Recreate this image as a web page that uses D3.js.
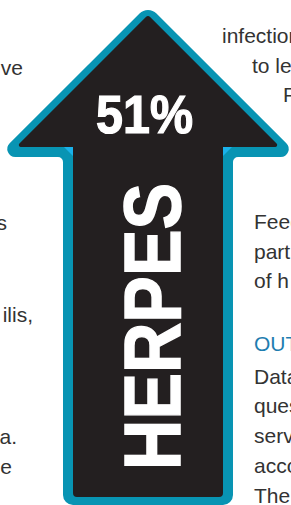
<!DOCTYPE html>
<html><head><meta charset="utf-8">
<script src="https://cdn.jsdelivr.net/npm/d3@7"></script>
<style>html,body{margin:0;padding:0;background:#fff;overflow:hidden}svg{display:block}</style>
</head><body>
<script>
// ---- data ----
const categories = ["HERPES"];
const values = [51];
const valueLabels = ["51%"];
// body-text fragments visible around the graphic
const leftLines = ["ve", "s", "ilis,", "a.", "e"];
const leftBaselines = [75, 230, 322, 444, 474];
const leftEnds = [23, 7, 33, 17, 12];
const rightLines = ["infection", "to le", "F", "Feed", "part", "of h", "OUT", "Data", "ques", "serv", "acco", "The"];
const rightBaselines = [43, 73, 102, 229, 259, 288, 351, 384, 413, 443, 473, 503];
const rightStarts = [222, 252, 283, 254, 254, 254, 254, 254, 254, 254, 254, 254];
const headingLines = ["OUT"];

const W = 291, H = 505;
const svg = d3.select("body").append("svg").attr("width", W).attr("height", H);

// body text (drawn behind the arrow)
const textFont = "'Liberation Sans', Arial, Helvetica, sans-serif";
svg.append("g").selectAll("text").data(leftLines).join("text")
  .attr("x", (d, i) => leftEnds[i]).attr("y", (d, i) => leftBaselines[i])
  .attr("text-anchor", "end").attr("font-family", textFont).attr("font-size", 21)
  .attr("fill", "#333").text(d => d);
svg.append("g").selectAll("text").data(rightLines).join("text")
  .attr("x", (d, i) => rightStarts[i]).attr("y", (d, i) => rightBaselines[i])
  .attr("font-family", textFont).attr("font-size", 21)
  .attr("fill", d => headingLines.includes(d) ? "#1f7db0" : "#333").text(d => d);

// arrow geometry
function roundedPoly(pts) {
  const p = d3.path(), n = pts.length;
  p.moveTo((pts[n - 1][0] + pts[0][0]) / 2, (pts[n - 1][1] + pts[0][1]) / 2);
  for (let i = 0; i < n; i++) {
    const c = pts[i], nx = pts[(i + 1) % n];
    p.arcTo(c[0], c[1], nx[0], nx[1], c[2]);
  }
  p.closePath();
  return p.toString();
}
const cx = 148;
const outer = [[cx, 5, 12], [300, 157, 8], [233, 157, 5], [233, 505, 10], [63, 505, 10], [63, 157, 5], [-4, 157, 8]];
const inner = [[cx, 15, 3], [280, 147, 2], [223, 147, 0], [223, 497, 4], [73, 497, 4], [73, 147, 0], [16, 147, 2]];

svg.append("path").attr("d", roundedPoly(outer)).attr("fill", "#0894b3");
svg.append("path").attr("d", "M64,147L73,147L73,156Z").attr("fill", "#1ab2ea");
svg.append("path").attr("d", "M232,147L223,147L223,156Z").attr("fill", "#1ab2ea");
svg.append("path").attr("d", roundedPoly(inner)).attr("fill", "#231f20");

// value label
svg.append("text").datum(values[0])
  .attr("x", 96).attr("y", 133)
  .attr("textLength", 97).attr("lengthAdjust", "spacingAndGlyphs")
  .attr("font-family", "'Liberation Sans', Arial, sans-serif")
  .attr("font-weight", "bold").attr("font-size", 53).attr("fill", "#fff")
  .attr("stroke", "#fff").attr("stroke-width", 1.2)
  .text(valueLabels[0]);

// category label (rotated)
svg.append("text").datum(categories[0])
  .attr("transform", "translate(180,470) rotate(-90)")
  .attr("textLength", 287).attr("lengthAdjust", "spacingAndGlyphs")
  .attr("font-family", "'Liberation Sans', Arial, sans-serif")
  .attr("font-weight", "bold").attr("font-size", 80).attr("fill", "#fff")
  .attr("stroke", "#fff").attr("stroke-width", 1.5)
  .text(d => d);
</script>
</body></html>
